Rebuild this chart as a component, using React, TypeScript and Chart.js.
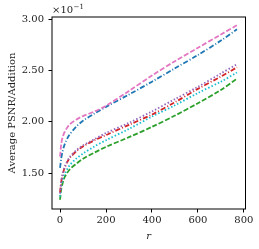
import React, { useEffect, useRef } from "react";
import { Chart, registerables } from "chart.js";

Chart.register(...registerables);

const rValues = [0, 5, 10, 20, 40, 70, 100, 150, 200, 300, 400, 500, 600, 700, 770];
const pinkSeries = [1.66, 1.78, 1.84, 1.9, 1.97, 2.02, 2.055, 2.1, 2.155, 2.3, 2.45, 2.59, 2.72, 2.85, 2.94];
const blueSeries = [1.55, 1.64, 1.7, 1.78, 1.87, 1.95, 2.01, 2.08, 2.145, 2.265, 2.39, 2.52, 2.65, 2.79, 2.9];
const purpleSeries = [1.3, 1.42, 1.48, 1.56, 1.65, 1.72, 1.77, 1.83, 1.89, 1.99, 2.1, 2.22, 2.34, 2.47, 2.56];
const redSeries = [1.31, 1.41, 1.47, 1.55, 1.64, 1.71, 1.76, 1.82, 1.87, 1.97, 2.07, 2.19, 2.32, 2.44, 2.53];
const cyanSeries = [1.27, 1.37, 1.42, 1.49, 1.57, 1.64, 1.69, 1.76, 1.82, 1.93, 2.05, 2.16, 2.28, 2.39, 2.48];
const greenSeries = [1.24, 1.34, 1.39, 1.46, 1.53, 1.59, 1.64, 1.7, 1.755, 1.85, 1.95, 2.06, 2.18, 2.31, 2.42];
const xTicks = [0, 200, 400, 600, 800];
const yTicks = [1.5, 2.0, 2.5, 3.0];

const FONT = "'DejaVu Serif', serif";

export default function App() {
  const ref = useRef<HTMLCanvasElement>(null);
  useEffect(() => {
    const toPts = (ys: number[]) => rValues.map((x, i) => ({ x, y: ys[i] }));
    const ds = (label: string, ys: number[], color: string, dash: number[]) => ({
      label,
      data: toPts(ys),
      borderColor: color,
      backgroundColor: color,
      borderWidth: 1.8,
      borderDash: dash,
      pointRadius: 0,
      tension: 0.3,
      fill: false,
    });
    const textPlugin = {
      id: "texts",
      afterDraw(chart: any) {
        const ctx = chart.ctx;
        const a = chart.chartArea;
        ctx.save();
        ctx.strokeStyle = "#000";
        ctx.lineWidth = 1;
        ctx.strokeRect(a.left, a.top, a.right - a.left, a.bottom - a.top);
        ctx.fillStyle = "#222";
        ctx.font = `10px ${FONT}`;
        ctx.textBaseline = "alphabetic";
        ctx.textAlign = "left";
        ctx.fillText("×10", a.left, 13);
        const w = ctx.measureText("×10").width;
        ctx.font = `7px ${FONT}`;
        ctx.fillText("−1", a.left + w + 0.5, 9);
        ctx.font = `italic 10px ${FONT}`;
        ctx.textAlign = "center";
        ctx.fillText("r", (a.left + a.right) / 2, 239);
        ctx.translate(15, (a.top + a.bottom) / 2);
        ctx.rotate(-Math.PI / 2);
        ctx.font = `10px ${FONT}`;
        ctx.fillText("Average PSNR/Addition", 0, 0);
        ctx.restore();
      },
    };
    const chart = new Chart(ref.current!, {
      type: "line",
      data: {
        datasets: [
          ds("pink", pinkSeries, "#e377c2", [5, 2]),
          ds("blue", blueSeries, "#1f77b4", [5, 2, 1, 2]),
          ds("purple", purpleSeries, "#9467bd", [1.5, 2]),
          ds("red", redSeries, "#d62728", [5, 2, 1, 2]),
          ds("cyan", cyanSeries, "#17becf", [1.5, 2]),
          ds("green", greenSeries, "#2ca02c", [5, 2]),
        ] as any,
      },
      options: {
        animation: false,
        responsive: false,
        maintainAspectRatio: false,
        layout: { padding: { left: 0, top: 17, right: 13.5, bottom: 0 } },
        plugins: { legend: { display: false }, tooltip: { enabled: false } },
        scales: {
          x: {
            type: "linear",
            min: -35,
            max: 807,
            afterFit(scale: any) {
              scale.height = 40;
            },
            afterBuildTicks(scale: any) {
              scale.ticks = xTicks.map((v) => ({ value: v }));
            },
            grid: { display: true, drawOnChartArea: false, drawTicks: true, tickLength: 3.5, color: "#000", tickColor: "#000" },
            border: { display: false },
            ticks: { color: "#222", font: { family: FONT, size: 10 }, padding: 2, maxRotation: 0, callback: (v: any) => String(v) },
          },
          y: {
            type: "linear",
            min: 1.15,
            max: 3.02,
            afterFit(scale: any) {
              scale.width = 52;
            },
            afterBuildTicks(scale: any) {
              scale.ticks = yTicks.map((v) => ({ value: v }));
            },
            grid: { display: true, drawOnChartArea: false, drawTicks: true, tickLength: 3.5, color: "#000", tickColor: "#000" },
            border: { display: false },
            ticks: { color: "#222", font: { family: FONT, size: 10 }, padding: 4.5, callback: (v: any) => Number(v).toFixed(2) },
          },
        },
      } as any,
      plugins: [textPlugin],
    });
    return () => chart.destroy();
  }, []);
  return (
    <div style={{ position: "fixed", left: 0, top: 0, width: 259, height: 249, background: "#fff" }}>
      <canvas ref={ref} width={259} height={249} style={{ width: 259, height: 249 }} />
    </div>
  );
}
